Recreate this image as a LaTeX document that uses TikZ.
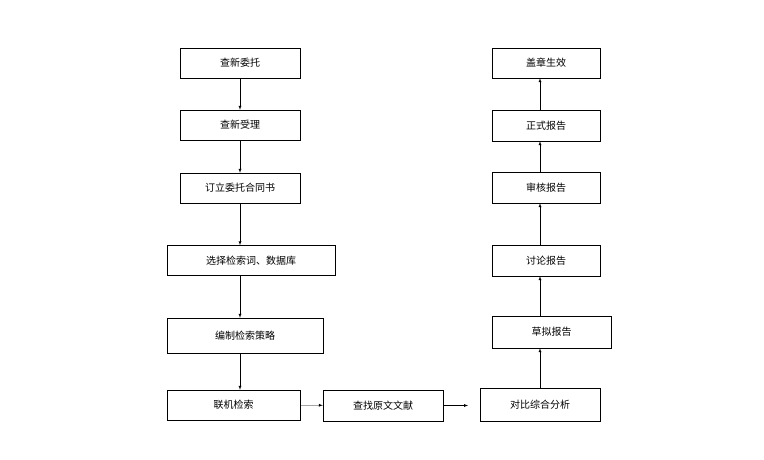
\documentclass[tikz,border=0pt]{standalone}
\usepackage{fontspec}
\newfontfamily\cjk{Noto Sans CJK SC}
\usetikzlibrary{arrows}
\begin{document}
\begin{tikzpicture}[x=1pt,y=-1pt, auto,
  stage/.style={draw, thin, minimum height=30pt, inner sep=0pt, font=\cjk\fontsize{10}{12}\selectfont},
  flow/.style={-latex, thin}]
 \useasboundingbox (0,0) rectangle (764,460);

 %left column
 \node[stage, minimum width=120pt] (S1) at (240,63) {查新委托};
 \node[stage, minimum width=120pt] (S2) at (240,125) {查新受理};
 \node[stage, minimum width=120pt] (S3) at (240,188) {订立委托合同书};
 \node[stage, minimum width=168pt] (S4) at (251,260.5) {选择检索词、数据库};
 \node[stage, minimum width=156pt, minimum height=35pt] (S5) at (245,335.5) {编制检索策略};
 \node[stage, minimum width=133pt] (S6) at (233.5,405) {联机检索};

 %bottom row
 \node[stage, minimum width=120pt, minimum height=31pt] (S7) at (383,405.5) {查找原文文献};
 \node[stage, minimum width=120pt, minimum height=33pt] (S8) at (540,404.5) {对比综合分析};
 \coordinate (E7) at (468,410);

 %right column
 \node[stage, minimum width=119pt, minimum height=32pt] (S9) at (551.5,332) {草拟报告};
 \node[stage, minimum width=108pt, minimum height=31pt] (S10) at (546,260.5) {讨论报告};
 \node[stage, minimum width=108pt, minimum height=31pt] (S11) at (546,187.5) {审核报告};
 \node[stage, minimum width=108pt, minimum height=31pt] (S12) at (546,125.5) {正式报告};
 \node[stage, minimum width=108pt] (S13) at (546,63) {盖章生效};

 %arrows
 \draw[flow] (S1) -- (S2);
 \draw[flow] (S2) -- (S3);
 \draw[flow] (S3.south) -- (S3.south |- S4.north);
 \draw[flow] (S3.south |- S4.south) -- (S3.south |- S5.north);
 \draw[flow] (S3.south |- S5.south) -- (S3.south |- S6.north);
 \draw[flow] (S6) -- (S7);
 \draw[flow] (S7.east) -- (S7.east -| E7);
 \draw[flow] (S8) -- (S8.north |- S9.south);
 \draw[flow] (S8.north |- S9.north) -- (S8.north |- S10.south);
 \draw[flow] (S8.north |- S10.north) -- (S8.north |- S11.south);
 \draw[flow] (S8.north |- S11.north) -- (S8.north |- S12.south);
 \draw[flow] (S8.north |- S12.north) -- (S8.north |- S13.south);
\end{tikzpicture}
\end{document}
